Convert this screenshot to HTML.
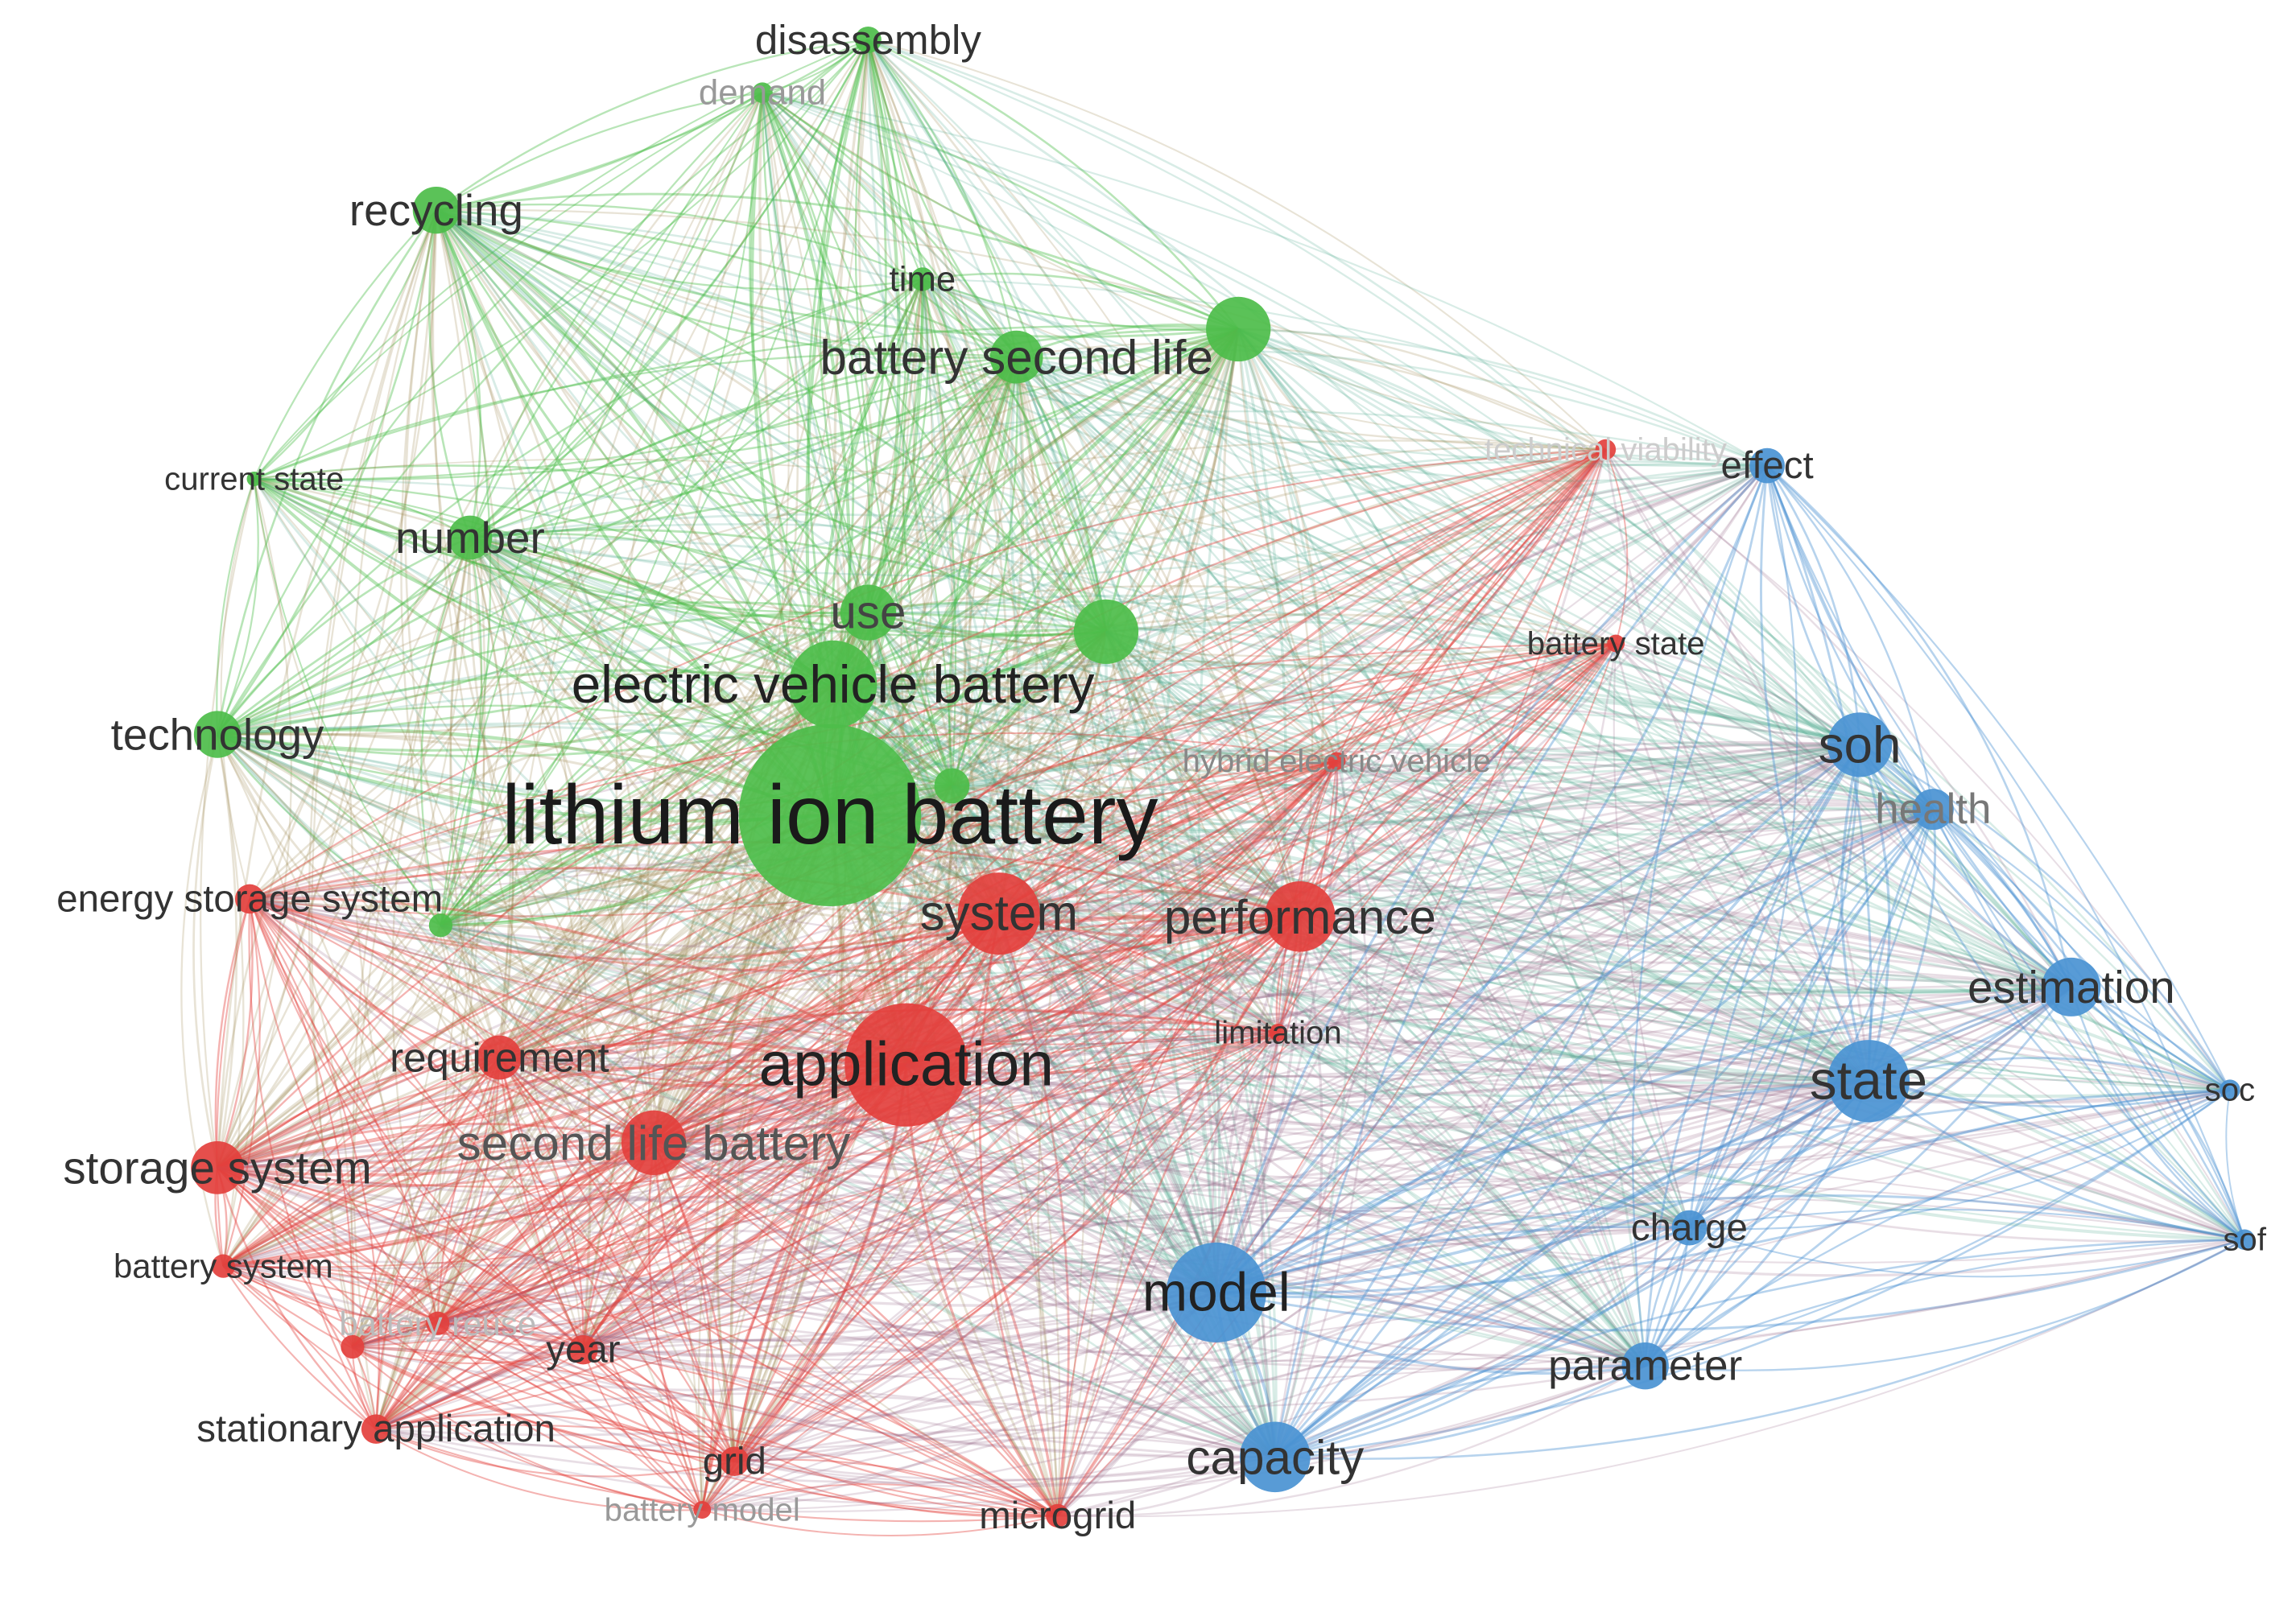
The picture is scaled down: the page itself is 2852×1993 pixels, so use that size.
<!DOCTYPE html>
<html><head><meta charset="utf-8"><style>
html,body{margin:0;padding:0;background:#fff;}
svg{display:block;}
text{font-family:"Liberation Sans","DejaVu Sans",sans-serif;text-anchor:middle;dominant-baseline:central;}
</style></head><body>
<svg id="s" width="2852" height="1993" viewBox="0 0 1563 1092" xmlns="http://www.w3.org/2000/svg">
<rect width="1563" height="1092" fill="#fff"/>
<g id="edges" fill="none"></g>
<g id="nodes"></g>
<g id="labels"></g>
</svg>
<script>
var G=[77,189,74],R=[227,64,61],B=[74,146,210];
var N=[
["disassembly",591,27,9,G,28,"#333"],
["demand",519,63,7,G,24,"#999"],
["recycling",297,143,16,G,30,"#333"],
["time",628,190,8,G,24,"#333"],
["battery second life",692,243,18,G,33,"#333"],
["",843,224,22,G,0,""],
["current state",173,326,5,G,22,"#333"],
["number",320,366,15,G,30,"#333"],
["use",591,417,19,G,32,"#444"],
["",753,430,22,G,0,""],
["electric vehicle battery",567,466,30,G,36,"#222"],
["technology",148,500,16,G,30,"#333"],
["lithium ion battery",565,555,62,G,57,"#1a1a1a"],
["",300,630,8,G,0,""],
["",648,535,12,G,0,""],
["technical viability",1093,306,7,R,22,"#ccc"],
["battery state",1100,438,6,R,22,"#333"],
["hybrid electric vehicle",910,518,6,R,22,"#888"],
["system",680,622,28,R,34,"#333"],
["performance",885,624,24,R,33,"#333"],
["limitation",870,703,6,R,22,"#333"],
["application",617,725,42,R,42,"#222"],
["requirement",340,720,15,R,28,"#333"],
["second life battery",445,778,22,R,33,"#555"],
["storage system",148,795,18,R,31,"#333"],
["battery system",152,862,8,R,23,"#333"],
["battery reuse",298,901,8,R,23,"#bbb"],
["",240,917,8,R,0,""],
["year",397,919,10,R,26,"#333"],
["stationary application",256,973,10,R,26,"#333"],
["grid",500,995,10,R,26,"#333"],
["battery model",478,1028,6,R,22,"#999"],
["microgrid",720,1032,8,R,26,"#333"],
["energy storage system",170,612,10,R,26,"#333"],
["effect",1203,317,12,B,26,"#333"],
["soh",1266,507,22,B,35,"#333"],
["health",1316,551,14,B,29,"#777"],
["estimation",1410,672,20,B,31,"#333"],
["state",1272,736,28,B,37,"#333"],
["soc",1518,742,7,B,22,"#333"],
["charge",1150,836,12,B,26,"#333"],
["sof",1528,844,7,B,22,"#333"],
["model",828,880,34,B,37,"#222"],
["parameter",1120,930,16,B,29,"#333"],
["capacity",868,992,24,B,33,"#333"]
];
var seed=11;function rnd(){seed=(seed*16807)%2147483647;return seed/2147483647;}
function col(a,b){return "rgb("+a.map(function(v,i){return Math.round((v+b[i])/2)}).join(",")+")";}
var e="";
for(var rep=0;rep<2;rep++)
for(var i=0;i<N.length;i++)for(var j=i+1;j<N.length;j++){
 var a=N[i],b=N[j];var same=a[4]==b[4];
 var p=Math.min(0.95,(Math.max(a[3],6)*Math.max(b[3],6))/(same?90:260));
 if(rnd()>p)continue;
 var dx=b[1]-a[1],dy=b[2]-a[2],L=Math.sqrt(dx*dx+dy*dy);
 var k=(0.12+0.12*rnd())*L*(rep?1:-1)*0.7,mx=(a[1]+b[1])/2-dy/L*k,my=(a[2]+b[2])/2+dx/L*k;
 var c=same?"rgb("+a[4].join(",")+")":col(a[4],b[4]);
 var w=(0.8+(a[3]+b[3])/50).toFixed(2);
 e+='<path d="M'+a[1]+' '+a[2]+' Q'+mx.toFixed(1)+' '+my.toFixed(1)+' '+b[1]+' '+b[2]+'" stroke="'+c+'" stroke-width="'+w+'" stroke-opacity="'+(same?0.4:0.22)+'"/>';
}
document.getElementById("edges").innerHTML=e;
var n="",l="";
N.forEach(function(d){n+='<circle cx="'+d[1]+'" cy="'+d[2]+'" r="'+d[3]+'" fill="rgb('+d[4].join(",")+')" fill-opacity="0.92"/>';
 if(d[0])l+='<text x="'+d[1]+'" y="'+d[2]+'" font-size="'+d[5]+'" fill="'+d[6]+'">'+d[0]+'</text>';});
document.getElementById("nodes").innerHTML=n;
document.getElementById("labels").innerHTML=l;
</script>
</body></html>
